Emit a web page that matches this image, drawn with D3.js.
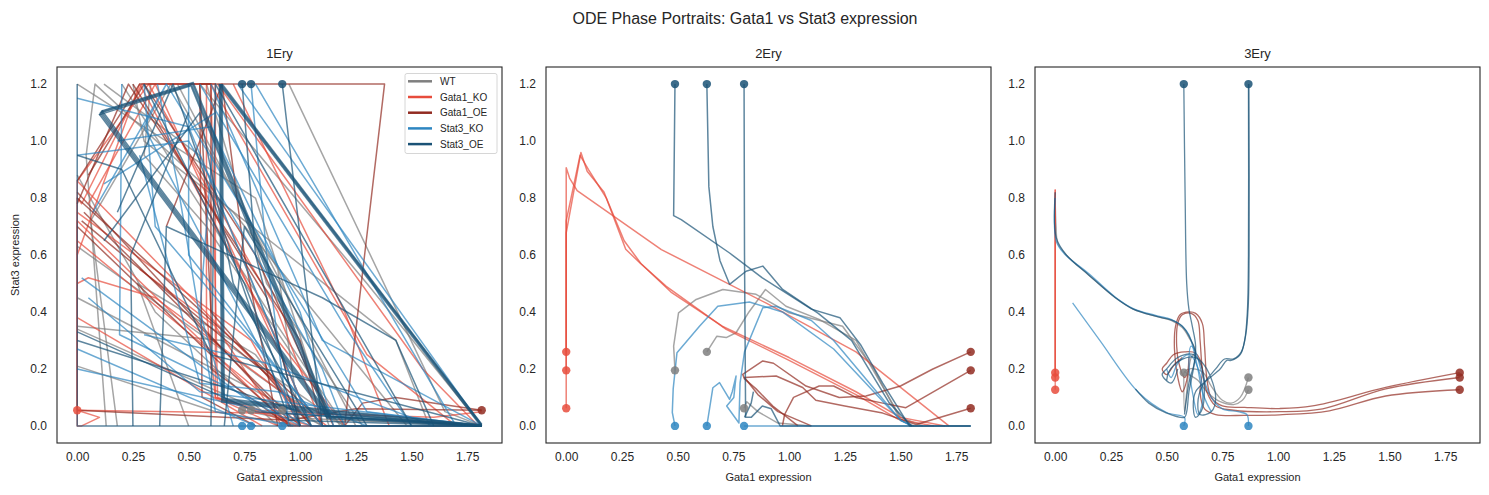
<!DOCTYPE html>
<html>
<head>
<meta charset="utf-8">
<script src="https://cdn.jsdelivr.net/npm/d3@7"></script>
<style>
  body { margin: 0; background: #fff; }
  text { font-family: "Liberation Sans", Arial, sans-serif; fill: #262626; }
</style>
</head>
<body>
<svg id="chart" width="1489" height="495"></svg>
<script>
const conditions = ["WT", "Gata1_KO", "Gata1_OE", "Stat3_KO", "Stat3_OE"];
const condColors = ["#7f7f7f", "#e74c3c", "#922b21", "#2e86c1", "#1a5276"];
const panelTitles = ["1Ery", "2Ery", "3Ery"];
const xTicks = [0, 0.25, 0.5, 0.75, 1.0, 1.25, 1.5, 1.75];
const yTicks = [0, 0.2, 0.4, 0.6, 0.8, 1.0, 1.2];

// 1Ery : trajectories (condition, points)
const ery1Lines = [
  ["WT", [[0.0,1.2],[0.8,0.8],[1.13,0.0],[1.815,0]]],
  ["WT", [[0.12,1.2],[0.55,0.95],[1.05,0.0],[1.815,0]]],
  ["WT", [[0.25,1.2],[0.3,1.0],[1.43,0.3],[1.58,0.0]]],
  ["WT", [[0.0,0.63],[0.95,0.1],[1.2,0.0]]],
  ["WT", [[0.0,0.34],[0.98,0.0]]],
  ["WT", [[0.0,0.21],[0.62,0.05],[1.0,0.0]]],
  ["WT", [[0.18,0.0],[0.06,0.72],[0.42,1.2],[0.9,0.55],[1.0,0.0]]],
  ["WT", [[0.33,1.2],[0.3,0.95],[0.58,0.7],[1.18,0.0]]],
  ["WT", [[0.13,0.0],[0.04,0.95],[0.08,1.2],[0.7,0.75],[1.48,0.0]]],
  ["WT", [[0.55,1.2],[1.3,0.5],[1.815,0]]],
  ["WT", [[0.5,0.0],[0.27,0.5],[0.8,0.25],[1.05,0.0]]],
  ["WT", [[0.0,0.35],[0.65,0.3],[1.2,0.0]]],
  ["WT", [[0.95,1.2],[1.65,0.05],[1.815,0]]],
  ["WT", [[0.58,1.2],[0.85,0.5],[1.28,0.0]]],
  ["WT", [[0.74,0.055],[0.9,0.03],[1.815,0.0]]],
  ["WT", [[0.78,0.055],[1.0,0.05],[1.1,0.0]]],
  ["WT", [[0.0,0.45],[1.1,0.0]]],
  ["WT", [[0.2,1.2],[0.9,0.35],[1.2,0.0]]],
  ["WT", [[0.0,0.88],[0.35,0.4],[0.9,0.0]]],
  ["WT", [[0.45,1.2],[1.05,0.3],[1.25,0.0]]],
  ["Gata1_KO", [[0,0.055],[0.1,0.03],[0.02,0.0],[0.0,0.0],[0.0,0.86],[0.32,1.2],[0.62,1.2],[0.62,0.1],[1.0,0.0]]],
  ["Gata1_KO", [[0,0.055],[0.0,0.8],[0.02,0.78],[0.29,1.2],[0.6,1.2],[0.63,0.1],[1.05,0.0]]],
  ["Gata1_KO", [[0,0.055],[0.0,0.72],[0.95,0.0],[1.815,0]]],
  ["Gata1_KO", [[0.0,0.6],[0.28,1.2],[0.9,0.3],[1.2,0.0]]],
  ["Gata1_KO", [[0.05,0.78],[0.35,1.2],[1.0,0.1],[1.1,0.0]]],
  ["Gata1_KO", [[0.0,0.38],[0.83,0.0]]],
  ["Gata1_KO", [[0.58,1.2],[0.58,0.4],[0.62,0.1],[0.9,0.0]]],
  ["Gata1_KO", [[0.0,0.5],[0.05,0.52],[0.35,0.45],[1.12,0.0]]],
  ["Gata1_KO", [[0.6,1.2],[1.3,0.25],[1.7,0.0]]],
  ["Gata1_KO", [[0.28,0.55],[0.62,0.35],[0.92,0.0]]],
  ["Gata1_KO", [[0,0.055],[1.2,0.04],[1.6,0.03],[1.815,0.05]]],
  ["Gata1_KO", [[0.7,1.2],[1.2,0.4],[1.4,0.0]]],
  ["Gata1_KO", [[0.0,0.86],[0.95,0.1],[1.05,0.0]]],
  ["Gata1_KO", [[0.0,0.65],[0.85,0.1],[0.95,0.0]]],
  ["Gata1_KO", [[0.32,1.2],[0.9,0.4],[1.1,0.0]]],
  ["Gata1_KO", [[0.63,1.2],[1.55,0.2],[1.8,0.0]]],
  ["Gata1_KO", [[0.0,0.75],[0.78,0.3],[1.0,0.0]]],
  ["Gata1_OE", [[1.815,0.055],[1.43,0.1],[1.28,0.08],[1.2,0.0]]],
  ["Gata1_OE", [[1.815,0.055],[1.25,0.06],[0.95,0.02],[0.0,0.055]]],
  ["Gata1_OE", [[1.2,0.0],[1.379,1.2],[0.55,1.2],[0.56,0.1],[0.8,0.0]]],
  ["Gata1_OE", [[0.0,0.86],[0.28,1.2],[0.6,1.2],[0.6,0.2],[0.95,0.0]]],
  ["Gata1_OE", [[0.0,0.78],[0.23,1.2],[1.0,0.3],[1.1,0.0]]],
  ["Gata1_OE", [[0.05,0.88],[0.3,1.2],[0.8,0.6],[1.15,0.0]]],
  ["Gata1_OE", [[0.0,0.7],[0.6,0.25],[0.96,0.0]]],
  ["Gata1_OE", [[0.4,0.7],[0.65,1.2],[0.75,0.6],[0.9,0.0]]],
  ["Gata1_OE", [[0.0,0.82],[0.95,0.02]]],
  ["Gata1_OE", [[0.03,0.75],[1.0,0.0]]],
  ["Gata1_OE", [[0.0,0.8],[1.05,0.05],[1.1,0.0]]],
  ["Gata1_OE", [[0.02,0.72],[0.9,0.15],[1.0,0.0]]],
  ["Gata1_OE", [[0.55,1.2],[0.6,0.4],[1.05,0.0]]],
  ["Gata1_OE", [[0.25,1.2],[0.85,0.45],[1.0,0.0]]],
  ["Stat3_KO", [[0.0,1.15],[0.5,1.05],[1.05,0.0],[1.815,0]]],
  ["Stat3_KO", [[0.02,0.52],[0.75,0.1],[1.0,0.0]]],
  ["Stat3_KO", [[0.0,0.27],[0.8,0.0]]],
  ["Stat3_KO", [[0.2,1.2],[0.19,0.32],[0.9,0.05],[1.05,0.0]]],
  ["Stat3_KO", [[0.07,0.75],[0.4,1.2],[0.3,1.05],[1.0,0.0]]],
  ["Stat3_KO", [[0.36,1.2],[0.45,0.85],[0.62,0.05],[0.97,0.0]]],
  ["Stat3_KO", [[0.5,1.2],[0.5,0.6],[1.1,0.0]]],
  ["Stat3_KO", [[0.72,1.2],[1.815,0.0]]],
  ["Stat3_KO", [[0.8,1.2],[1.7,0.0],[1.815,0]]],
  ["Stat3_KO", [[0.28,0.95],[0.55,0.15],[0.9,0.12],[1.3,0.0]]],
  ["Stat3_KO", [[0.12,0.85],[0.62,1.1],[0.55,0.4],[0.7,0.0]]],
  ["Stat3_KO", [[0.3,0.32],[0.85,0.22],[1.6,0.0]]],
  ["Stat3_KO", [[0.55,1.2],[1.2,0.35],[1.5,0.0]]],
  ["Stat3_KO", [[0.78,1.2],[0.85,0.6],[0.95,0.0]]],
  ["Stat3_KO", [[0.0,0.95],[0.5,1.0],[1.1,0.2],[1.2,0.0]]],
  ["Stat3_KO", [[0.4,1.2],[1.3,0.05],[1.815,0]]],
  ["Stat3_KO", [[0.18,1.0],[0.6,1.05],[1.0,0.4],[1.15,0.0]]],
  ["Stat3_KO", [[0.0,0.2],[0.85,0.05],[1.815,0]]],
  ["Stat3_KO", [[0.3,1.2],[0.35,0.7],[0.95,0.15],[1.1,0.0]]],
  ["Stat3_KO", [[0.6,1.2],[1.1,0.3],[1.815,0.0]]],
  ["Stat3_KO", [[0.05,0.45],[0.55,0.12],[0.75,0.1],[1.815,0]]],
  ["Stat3_OE", [[0.92,1.2],[1.1,0.0],[1.815,0]]],
  ["Stat3_OE", [[0.0,1.2],[0.0,0.0],[1.815,0.0]]],
  ["Stat3_OE", [[0.25,0.0],[0.24,0.6],[0.5,1.1]]],
  ["Stat3_OE", [[0.0,0.33],[0.8,0.05],[1.815,0.0]]],
  ["Stat3_OE", [[0.37,0.0],[0.4,0.7],[1.1,0.45],[1.43,0.3],[1.6,0.0]]],
  ["Stat3_OE", [[0.6,0.0],[0.62,1.2],[1.5,0.0]]],
  ["Stat3_OE", [[0.18,0.75],[0.43,1.2],[0.95,0.02],[1.815,0]]],
  ["Stat3_OE", [[0.66,0.0],[0.75,0.7],[1.3,0.0]]],
  ["Stat3_OE", [[0.74,1.2],[0.8,0.6],[1.0,0.0]]],
  ["Stat3_OE", [[0.0,0.95],[0.2,0.9],[0.6,0.25],[1.815,0]]],
  ["Stat3_OE", [[0.3,1.2],[0.75,0.5],[1.0,0.0]]],
  ["Stat3_OE", [[0.12,0.65],[0.55,1.1],[0.7,0.5],[1.05,0.0]]],
  ["Stat3_OE", [[0.0,0.3],[1.0,0.05],[1.815,0.0]]],
  ["Stat3_OE", [[0.098,1.092],[0.51,1.194],[1.122,0.026],[1.815,0]]],
  ["Stat3_OE", [[0.102,1.098],[0.513,1.198],[1.128,0.03],[1.815,0]]],
  ["Stat3_OE", [[0.106,1.102],[0.517,1.202],[1.132,0.032],[1.815,0.002]]],
  ["Stat3_OE", [[0.11,1.106],[0.52,1.206],[1.136,0.034],[1.815,0.003]]],
  ["Stat3_OE", [[0.098,1.096],[1.124,0.026]]],
  ["Stat3_OE", [[0.102,1.1],[1.128,0.029]]],
  ["Stat3_OE", [[0.106,1.104],[1.132,0.032]]],
  ["Stat3_OE", [[0.11,1.108],[1.136,0.035]]],
  ["Stat3_OE", [[0.638,1.2],[0.648,0.084],[1.13,0.044],[1.815,0]]],
  ["Stat3_OE", [[0.642,1.2],[0.652,0.088],[1.13,0.048],[1.815,0]]],
  ["Stat3_OE", [[0.646,1.2],[0.656,0.092],[1.13,0.052],[1.815,0.002]]],
  ["Stat3_OE", [[0.65,1.2],[0.66,0.096],[1.13,0.056],[1.815,0.003]]],
  ["Stat3_OE", [[0.636,1.2],[1.81,0]]],
  ["Stat3_OE", [[0.641,1.2],[1.813,0.002]]],
  ["Stat3_OE", [[0.646,1.2],[1.815,0.004]]],
  ["Stat3_OE", [[0.651,1.2],[1.815,0.006]]]
];
const ery1Starts = [
  ["WT",0.74,0.055],["WT",0.78,0.055],["WT",0.92,0.055],
  ["Gata1_KO",0,0.055],["Gata1_OE",1.815,0.055],
  ["Stat3_KO",0.74,0],["Stat3_KO",0.78,0],["Stat3_KO",0.92,0],
  ["Stat3_OE",0.74,1.2],["Stat3_OE",0.78,1.2],["Stat3_OE",0.92,1.2]
];

// 2Ery
const ery2Lines = [
  ["WT", [[0.488,0.195],[0.482,0.28],[0.504,0.397],[0.583,0.444],[0.703,0.479],[0.852,0.462],[1.0,0.397],[1.24,0.35],[1.38,0.2],[1.5,0.02],[1.56,0]]],
  ["WT", [[0.631,0.26],[0.676,0.315],[0.718,0.31],[0.762,0.327],[0.82,0.4],[0.894,0.479],[0.986,0.42],[1.135,0.374],[1.3,0.3],[1.5,0.03],[1.6,0]]],
  ["WT", [[0.798,0.062],[0.81,0.085],[0.86,0.05],[0.95,0.01],[1.1,0.0]]],
  ["Gata1_KO", [[0,0.26],[0,0.906],[0.015,0.87],[0.049,0.826],[0.427,0.619],[0.9,0.43],[1.3,0.26],[1.717,0]]],
  ["Gata1_KO", [[0,0.195],[0,0.678],[0.066,0.96],[0.094,0.894],[0.17,0.82],[0.267,0.62],[0.33,0.573],[0.449,0.49],[0.718,0.339],[1.0,0.23],[1.3,0.11],[1.49,0.023],[1.65,0]]],
  ["Gata1_KO", [[0,0.062],[0,0.72],[0.062,0.95],[0.1,0.9],[0.18,0.8],[0.26,0.65],[0.335,0.57],[0.47,0.47],[0.7,0.35],[1.0,0.24],[1.3,0.12],[1.5,0.03],[1.7,0]]],
  ["Gata1_OE", [[1.815,0.26],[1.643,0.199],[1.5,0.14],[1.345,0.105],[1.225,0.1],[1.076,0.14],[0.93,0.22],[0.882,0.228],[0.792,0.181],[0.8,0.165],[0.852,0.13],[0.927,0.07],[1.04,0.0]]],
  ["Gata1_OE", [[1.815,0.195],[1.524,0.064],[1.42,0.08],[1.3,0.1],[1.2,0.14],[1.135,0.14],[1.02,0.1],[0.98,0.04],[0.97,0.0]]],
  ["Gata1_OE", [[1.815,0.062],[1.57,0.005],[1.42,0.045],[1.25,0.07],[1.12,0.09],[1.061,0.135],[0.942,0.175],[0.8,0.17],[0.86,0.11],[0.95,0.05],[1.1,0.0]]],
  ["Stat3_KO", [[0.488,0],[0.476,0.047],[0.48,0.13],[0.497,0.257],[0.598,0.35],[0.68,0.42],[0.822,0.435],[0.97,0.4],[1.2,0.27],[1.5,0.02],[1.55,0]]],
  ["Stat3_KO", [[0.631,0],[0.643,0.06],[0.658,0.134],[0.688,0.152],[0.733,0.093],[0.745,0.12],[0.762,0.175],[0.752,0.1],[0.72,0.07],[0.775,0.01],[0.78,0.15],[0.8,0.26],[0.882,0.415],[0.941,0.42],[1.1,0.37],[1.2,0.3],[1.5,0.02],[1.55,0]]],
  ["Stat3_KO", [[0.798,0],[1.815,0]]],
  ["Stat3_OE", [[0.488,1.2],[0.482,0.738],[0.516,0.724],[0.733,0.607],[0.88,0.52],[1.1,0.41],[1.228,0.38],[1.32,0.286],[1.42,0.15],[1.54,0],[1.815,0]]],
  ["Stat3_OE", [[0.631,1.2],[0.64,0.84],[0.658,0.7],[0.69,0.58],[0.733,0.497],[0.807,0.543],[0.882,0.561],[0.971,0.479],[1.131,0.395],[1.28,0.3],[1.45,0.08],[1.55,0]]],
  ["Stat3_OE", [[0.798,1.2],[0.8,0.6],[0.805,0.03],[0.83,0.03],[0.88,0.07],[0.92,0.06],[0.96,0.0],[1.815,0]]],
  ["Stat3_OE", [[0.8,0.03],[0.83,0.08],[0.84,0.12]]]
];
const ery2Starts = [
  ["WT",0.631,0.26],["WT",0.488,0.195],["WT",0.798,0.062],
  ["Gata1_KO",0,0.26],["Gata1_KO",0,0.195],["Gata1_KO",0,0.062],
  ["Gata1_OE",1.815,0.26],["Gata1_OE",1.815,0.195],["Gata1_OE",1.815,0.062],
  ["Stat3_KO",0.488,0],["Stat3_KO",0.631,0],["Stat3_KO",0.798,0],
  ["Stat3_OE",0.488,1.2],["Stat3_OE",0.631,1.2],["Stat3_OE",0.798,1.2]
];

// 3Ery
const ery3Lines = [
  ["WT", [[0.867,0.17],[0.83,0.1],[0.79,0.08],[0.75,0.09],[0.7,0.14],[0.66,0.19],[0.6,0.2],[0.577,0.187]]],
  ["WT", [[0.867,0.127],[0.84,0.09],[0.8,0.075],[0.74,0.085],[0.68,0.12],[0.64,0.16],[0.6,0.18],[0.58,0.19]]],
  ["WT", [[0.577,0.187],[0.58,0.05],[0.59,0.12],[0.61,0.24],[0.63,0.26],[0.6,0.31],[0.57,0.345],[0.52,0.37],[0.45,0.385],[0.35,0.41],[0.27,0.45],[0.15,0.53],[0.05,0.6],[0.012,0.64],[0.004,0.7],[0.0,0.8]]],
  ["Gata1_KO", [[0,0.187],[0,0.83]]],
  ["Gata1_KO", [[0,0.17],[0,0.82]]],
  ["Gata1_KO", [[0,0.127],[0,0.83]]],
  ["Gata1_OE", [[1.815,0.187],[1.483,0.135],[1.155,0.07],[1.006,0.061],[0.85,0.065],[0.75,0.07],[0.7,0.1],[0.68,0.17],[0.67,0.28],[0.66,0.36],[0.63,0.395],[0.6,0.4],[0.56,0.39],[0.54,0.35],[0.535,0.27],[0.55,0.17],[0.57,0.12],[0.59,0.16],[0.6,0.24]]],
  ["Gata1_OE", [[1.815,0.17],[1.483,0.13],[1.2,0.06],[1.006,0.05],[0.8,0.055],[0.72,0.07],[0.68,0.12],[0.66,0.2],[0.65,0.3],[0.64,0.37],[0.61,0.395],[0.57,0.39],[0.55,0.36],[0.545,0.28],[0.555,0.22],[0.58,0.17],[0.6,0.2]]],
  ["Gata1_OE", [[1.815,0.127],[1.483,0.105],[1.23,0.053],[1.006,0.039],[0.85,0.037],[0.72,0.04],[0.67,0.06],[0.65,0.12],[0.66,0.2],[0.63,0.255],[0.58,0.26],[0.53,0.25],[0.5,0.22],[0.48,0.2],[0.5,0.18],[0.53,0.21],[0.57,0.24]]],
  ["Stat3_KO", [[0.577,0],[0.58,0.03],[0.5,0.047],[0.374,0.117],[0.2,0.3],[0.078,0.432]]],
  ["Stat3_KO", [[0.867,0],[0.86,0.04],[0.82,0.05],[0.75,0.06],[0.7,0.1],[0.66,0.18],[0.63,0.26],[0.61,0.28],[0.6,0.22],[0.62,0.1],[0.64,0.04],[0.66,0.08],[0.65,0.18],[0.6,0.25],[0.55,0.22],[0.52,0.17],[0.5,0.2]]],
  ["Stat3_KO", [[0.0,0.8],[0.004,0.65],[0.04,0.605],[0.15,0.535],[0.27,0.452],[0.35,0.412],[0.45,0.388],[0.52,0.374],[0.57,0.35],[0.6,0.32],[0.62,0.27],[0.64,0.2],[0.66,0.12],[0.68,0.08],[0.7,0.05]]],
  ["Stat3_OE", [[0.577,1.2],[0.583,0.8],[0.59,0.5],[0.6,0.41],[0.615,0.35],[0.63,0.28],[0.62,0.2],[0.6,0.12],[0.59,0.05],[0.58,0.03],[0.5,0.045],[0.42,0.08],[0.36,0.13]]],
  ["Stat3_OE", [[0.867,1.2],[0.867,0.6],[0.862,0.4],[0.85,0.3],[0.83,0.25],[0.79,0.23],[0.77,0.23],[0.74,0.2],[0.68,0.16],[0.63,0.12],[0.62,0.06],[0.63,0.03],[0.66,0.06],[0.66,0.2],[0.62,0.25],[0.55,0.24],[0.5,0.2],[0.48,0.18],[0.52,0.15],[0.55,0.2]]],
  ["Stat3_OE", [[0.869,1.2],[0.87,0.6],[0.866,0.42],[0.855,0.32],[0.835,0.26],[0.8,0.235],[0.76,0.235],[0.72,0.2],[0.66,0.14],[0.64,0.08],[0.65,0.04],[0.7,0.05],[0.72,0.1],[0.68,0.2],[0.63,0.24],[0.56,0.23],[0.51,0.19],[0.5,0.16]]],
  ["Stat3_OE", [[0.0,0.82],[0.005,0.66],[0.05,0.6],[0.15,0.53],[0.27,0.45],[0.35,0.41],[0.45,0.385],[0.52,0.372],[0.57,0.35],[0.61,0.3],[0.63,0.25],[0.6,0.15],[0.58,0.04]]]
];
const ery3Starts = [
  ["WT",0.577,0.187],["WT",0.867,0.17],["WT",0.867,0.127],
  ["Gata1_KO",0,0.187],["Gata1_KO",0,0.17],["Gata1_KO",0,0.127],
  ["Gata1_OE",1.815,0.187],["Gata1_OE",1.815,0.17],["Gata1_OE",1.815,0.127],
  ["Stat3_KO",0.577,0],["Stat3_KO",0.867,0],
  ["Stat3_OE",0.577,1.2],["Stat3_OE",0.867,1.2]
];

const panelLines = [ery1Lines, ery2Lines, ery3Lines];
const panelStarts = [ery1Starts, ery2Starts, ery3Starts];

const color = d3.scaleOrdinal().domain(conditions).range(condColors);
const svg = d3.select("#chart");

svg.append("text")
  .attr("x", 745).attr("y", 24)
  .attr("text-anchor", "middle")
  .style("font-size", "16px")
  .text("ODE Phase Portraits: Gata1 vs Stat3 expression");

const panelLeft = [57, 546, 1035];
const W = 445, TOP = 67, BOTTOM = 443;

panelTitles.forEach(function(title, i) {
  var left = panelLeft[i];
  var x = d3.scaleLinear().domain([-0.0907, 1.906]).range([left, left + W]);
  var y = d3.scaleLinear().domain([-0.06, 1.26]).range([BOTTOM, TOP]);
  var g = svg.append("g");

  // axes
  g.append("g")
    .attr("transform", "translate(0," + BOTTOM + ")")
    .call(d3.axisBottom(x).tickValues(xTicks).tickFormat(d3.format(".2f")).tickSize(0).tickPadding(9))
    .call(a => a.select(".domain").remove())
    .selectAll("text").style("font-size", "12px").attr("fill", "#262626")
    .style("font-family", "'Liberation Sans', Arial, sans-serif");
  g.append("g")
    .attr("transform", "translate(" + left + ",0)")
    .call(d3.axisLeft(y).tickValues(yTicks).tickFormat(d3.format(".1f")).tickSize(0).tickPadding(10))
    .call(a => a.select(".domain").remove())
    .selectAll("text").style("font-size", "12px").attr("fill", "#262626")
    .style("font-family", "'Liberation Sans', Arial, sans-serif");

  var clipId = "clip" + i;
  svg.append("clipPath").attr("id", clipId)
    .append("rect").attr("x", left).attr("y", TOP).attr("width", W).attr("height", BOTTOM - TOP);

  var line = d3.line()
    .x(d => x(d[0])).y(d => y(d[1]))
    .curve(i === 2 ? d3.curveCatmullRom.alpha(0.5) : d3.curveLinear);

  var plot = g.append("g").attr("clip-path", "url(#" + clipId + ")");
  var lines = panelLines[i].slice().sort((a, b) => conditions.indexOf(a[0]) - conditions.indexOf(b[0]));
  plot.selectAll("path.traj")
    .data(lines)
    .enter().append("path")
    .attr("class", "traj")
    .attr("d", d => line(d[1]))
    .attr("fill", "none")
    .attr("stroke", d => color(d[0]))
    .attr("stroke-width", i === 2 ? 1.3 : 1.5)
    .attr("stroke-opacity", 0.7)
    .attr("stroke-linejoin", "round");

  plot.selectAll("circle")
    .data(panelStarts[i])
    .enter().append("circle")
    .attr("cx", d => x(d[1]))
    .attr("cy", d => y(d[2]))
    .attr("r", 4.2)
    .attr("fill", d => color(d[0]))
    .attr("fill-opacity", 0.85);

  // frame
  g.append("rect")
    .attr("x", left).attr("y", TOP).attr("width", W).attr("height", BOTTOM - TOP)
    .attr("fill", "none").attr("stroke", "#262626").attr("stroke-width", 1.1);

  g.append("text")
    .attr("x", left + W / 2).attr("y", 58)
    .attr("text-anchor", "middle")
    .style("font-size", "13px")
    .text(title);

  g.append("text")
    .attr("x", left + W / 2).attr("y", 481)
    .attr("text-anchor", "middle")
    .style("font-size", "11px")
    .text("Gata1 expression");

  if (i === 0) {
    g.append("text")
      .attr("transform", "translate(19," + ((TOP + BOTTOM) / 2) + ") rotate(-90)")
      .attr("text-anchor", "middle")
      .style("font-size", "11px")
      .text("Stat3 expression");

    // legend
    var lg = g.append("g").attr("transform", "translate(405,73.5)");
    lg.append("rect")
      .attr("width", 92).attr("height", 80).attr("rx", 2)
      .attr("fill", "#fff").attr("fill-opacity", 0.85)
      .attr("stroke", "#d6d6d6");
    conditions.forEach(function(c, k) {
      var yy = 7.8 + k * 15.7;
      lg.append("line")
        .attr("x1", 3).attr("x2", 27).attr("y1", yy).attr("y2", yy)
        .attr("stroke", color(c)).attr("stroke-width", 2.5);
      lg.append("text")
        .attr("x", 35).attr("y", yy + 3.5)
        .style("font-size", "10px")
        .text(c);
    });
  }
});
</script>
</body>
</html>
